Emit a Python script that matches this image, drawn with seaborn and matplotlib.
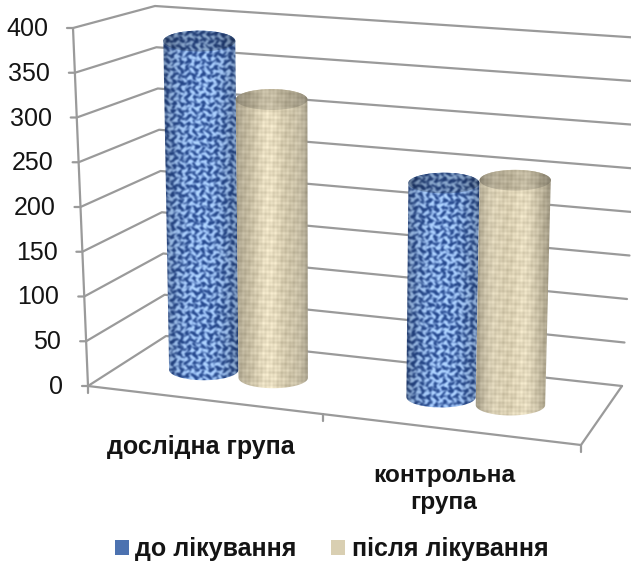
import numpy as np
import pandas as pd
import seaborn as sns
import matplotlib
matplotlib.use("Agg")
import matplotlib.pyplot as plt
from matplotlib.patches import Patch, PathPatch
from matplotlib.path import Path

# Chart data
groups = ["дослідна група", "контрольна\nгрупа"]
series = ["до лікування", "після лікування"]
before = [380, 243]
after = [320, 254]
value_ticks = [0, 50, 100, 150, 200, 250, 300, 350, 400]

# Wall and floor corners of the 3D box, in figure pixels: [value 0, value 400]
FRONT_LEFT = np.array([[88, 386], [73, 28]], float)
FRONT_RIGHT = np.array([[581, 445], [598, 80]], float)
BACK_LEFT = np.array([[166, 336], [155, 6]], float)
BACK_RIGHT = np.array([[622, 386], [642, 38]], float)
BAR_DEPTH = 0.5
BAR_LEAN = 0.6
LINE_GREY = "#9a9a9a"
INK = "#141414"

sns.set_theme(style="white")
plt.rcParams["font.family"] = ["Liberation Sans", "DejaVu Sans"]

W, H = 631, 565
fig = plt.figure(figsize=(W / 100, H / 100), dpi=100, facecolor="white")

# seaborn computes the dodged bars; the hidden axes supplies the scales
scale_ax = fig.add_axes([0.1, 0.1, 0.8, 0.8])
frame = pd.DataFrame({
    "group": groups * 2,
    "series": [series[0]] * 2 + [series[1]] * 2,
    "value": before + after,
})
sns.barplot(data=frame, x="group", y="value", hue="series", order=groups,
            hue_order=series, width=0.585, legend=False, ax=scale_ax)
scale_ax.set_xlim(-0.47, 1.53)
scale_ax.set_ylim(0, 400)
scale_ax.set_visible(False)
fig.canvas.draw()

canvas = fig.add_axes([0, 0, 1, 1])
canvas.set_xlim(0, W)
canvas.set_ylim(H, 0)
canvas.axis("off")


def box_point(u, depth, level):
    """Trilinear position inside the box; u, depth, level all in 0..1."""
    def pick(corner):
        return corner[0] + (corner[1] - corner[0]) * level
    front = pick(FRONT_LEFT) + (pick(FRONT_RIGHT) - pick(FRONT_LEFT)) * u
    back = pick(BACK_LEFT) + (pick(BACK_RIGHT) - pick(BACK_LEFT)) * u
    return front + (back - front) * depth


def project(x, value):
    u, level = scale_ax.transLimits.transform((x, value))
    base = box_point(u, BAR_DEPTH, 0)
    point = box_point(u, BAR_DEPTH, level)
    # The cylinders lean less than the box edges do
    point[0] = base[0] + BAR_LEAN * (point[0] - base[0])
    return point


def line(points, **kw):
    pts = np.array(points)
    canvas.plot(pts[:, 0], pts[:, 1], color=LINE_GREY, lw=1.6,
                solid_capstyle="round", zorder=1, **kw)


# Walls: every gridline runs from the front axis to the back corner and on to the right
for tick in value_ticks:
    lv = tick / 400
    fl = box_point(0, 0, lv)
    line([fl + np.array([-6, 0]), fl, box_point(0, 1, lv), box_point(1, 1, lv)])
    canvas.text(fl[0] - 25, fl[1] + 1, str(tick), ha="right", va="center",
                fontsize=18, color=INK)

# Floor outline and axes
line([box_point(0, 0, 0), box_point(0, 0, 1)])
line([box_point(0, 0, 0), box_point(1, 0, 0), box_point(1, 1, 0)])
for u in (0, 0.476, 1):
    p = box_point(u, 0, 0)
    line([p, p + np.array([0, 7])])


def weave(xx, yy):
    """Blocky stitched pattern in 0..1: cells alternate between two strand directions."""
    across = 0.5 + 0.5 * np.sin(2 * np.pi * yy / 7.0 + 1.3 * np.sin(0.47 * xx))
    along = 0.5 + 0.5 * np.sin(2 * np.pi * xx / 7.3 + 1.3 * np.sin(0.59 * yy))
    cells = 0.5 + 0.5 * np.sin(0.61 * xx + 1.1 * np.sin(0.21 * yy)) \
        * np.sin(0.73 * yy + 1.1 * np.sin(0.17 * xx))
    drift = 0.5 + 0.5 * np.sin(0.29 * xx + 0.41 * yy) * np.sin(0.37 * xx - 0.19 * yy)
    raw = np.clip(0.05 + 0.9 * (cells * across + (1 - cells) * along) + 0.3 * (drift - 0.5), 0, 1)
    # Steepen the transition so stitches separate from the dark ground
    return raw * raw * (3 - 2 * raw)


def fine_grid(xx, yy):
    """Fine linen pattern in 0..1."""
    a = np.sin(2 * np.pi * xx / 4.1)
    b = np.sin(2 * np.pi * yy / 4.3)
    c = np.sin(0.23 * xx + 0.41 * yy) * np.sin(0.37 * xx - 0.19 * yy)
    band = np.sin(0.17 * xx)
    return np.clip(0.66 + 0.09 * a + 0.09 * b + 0.12 * c + 0.09 * band, 0, 1)


def blue_fill(xx, yy, t):
    v = weave(xx, yy)[..., None]
    dark, light = np.array([0.14, 0.27, 0.53]), np.array([0.66, 0.80, 0.98])
    shade = (0.74 + 0.32 * np.sin(np.pi * np.clip(t, 0, 1)) ** 0.6)[..., None]
    return np.clip((dark + (light - dark) * v) * shade, 0, 1)


def beige_fill(xx, yy, t):
    v = fine_grid(xx, yy)[..., None]
    dark, light = np.array([0.62, 0.58, 0.47]), np.array([0.97, 0.93, 0.82])
    shade = (0.72 + 0.32 * np.sin(np.pi * np.clip(t, 0, 1)) ** 0.6)[..., None]
    return np.clip((dark + (light - dark) * v) * shade, 0, 1)


def paint(fill, path, x0, x1, y0, y1, factor, zorder):
    xs = np.arange(np.floor(min(x0, x1)) - 2, np.ceil(max(x0, x1)) + 3)
    ys = np.arange(np.floor(y0) - 2, np.ceil(y1) + 3)
    xx, yy = np.meshgrid(xs, ys)
    rgb = np.clip(fill(xx, yy, (xx - x0) / (x1 - x0)) * factor, 0, 1)
    im = canvas.imshow(rgb, extent=(xs[0], xs[-1], ys[-1], ys[0]), aspect="auto",
                       interpolation="bicubic", zorder=zorder)
    im.set_clip_path(PathPatch(path, transform=canvas.transData))


def draw_cylinder(bar, fill, top_factor, zorder):
    x0, x1 = bar.get_x(), bar.get_x() + bar.get_width()
    value = bar.get_height()
    bl, br = project(x0, 0), project(x1, 0)
    tl, tr = project(x0, value), project(x1, value)
    bc, tc = (bl + br) / 2, (tl + tr) / 2
    b_half, t_half = (br[0] - bl[0]) / 2, (tr[0] - tl[0]) / 2
    b_minor, t_minor = b_half * 0.3, t_half * 0.29

    theta = np.linspace(0, np.pi, 60)
    lower = np.c_[bc[0] - b_half * np.cos(theta), bc[1] + b_minor * np.sin(theta)]
    upper = np.c_[tc[0] + t_half * np.cos(theta), tc[1] - t_minor * np.sin(theta)]
    outline = np.r_[lower, upper, lower[:1]]
    body = Path(outline, closed=True)
    left = min(bc[0] - b_half, tc[0] - t_half)
    right = max(bc[0] + b_half, tc[0] + t_half)
    paint(fill, body, left, right, outline[:, 1].min(), outline[:, 1].max(), 1.0, zorder)

    whole = np.linspace(0, 2 * np.pi, 90)
    cap = Path(np.c_[tc[0] + t_half * np.cos(whole), tc[1] + t_minor * np.sin(whole)],
               closed=True)
    paint(fill, cap, tc[0] - t_half, tc[0] + t_half, tc[1] - t_minor, tc[1] + t_minor,
          top_factor, zorder + 0.5)


fills = [blue_fill] * 2 + [beige_fill] * 2
top_factors = [0.8] * 2 + [0.85] * 2
for i, (bar, fill, factor) in enumerate(zip(scale_ax.patches, fills, top_factors)):
    draw_cylinder(bar, fill, factor, 3 + i)
canvas.set_xlim(0, W)
canvas.set_ylim(H, 0)

# Category labels under the floor
canvas.text(201, 447, groups[0], ha="center", va="center", fontsize=18,
            fontweight="bold", color=INK)
canvas.text(444, 489, groups[1], ha="center", va="center", fontsize=17.6,
            fontweight="bold", color=INK, linespacing=1.17)

handles = [Patch(facecolor="#4c72b0", edgecolor="none", label=series[0]),
           Patch(facecolor="#d9cfb2", edgecolor="none", label=series[1])]
canvas.legend(handles=handles, loc="center", bbox_to_anchor=(331.5, 549),
              bbox_transform=canvas.transData, ncol=2, frameon=False,
              prop={"size": 18, "weight": "bold"}, labelcolor=INK,
              handlelength=0.56, handleheight=0.56, handletextpad=0.25,
              columnspacing=1.4)

fig.savefig("out.png", dpi=100, facecolor="white")
